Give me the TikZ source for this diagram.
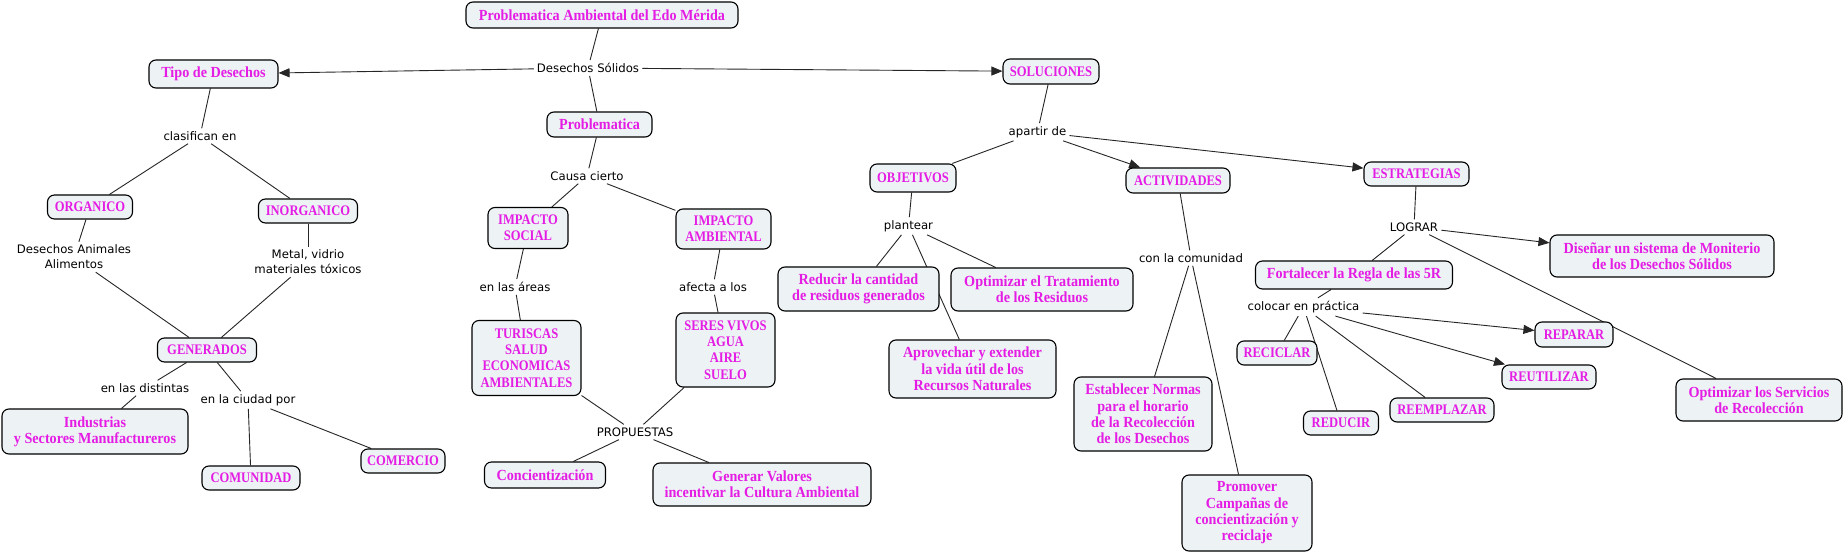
\documentclass[tikz,border=0pt]{standalone}
\usepackage{fontspec}
\setmainfont{Liberation Serif}
\newfontfamily\boxfont[FakeStretch=0.92]{Liberation Serif}
\newfontfamily\capfont[FakeStretch=0.86]{Liberation Serif}
\newfontfamily\labfont{DejaVu Sans}
\usetikzlibrary{arrows.meta}
\definecolor{mag}{RGB}{228,28,228}
\definecolor{boxfill}{RGB}{237,242,245}
\pgfdeclarelayer{bg}
\pgfsetlayers{bg,main}
\tikzset{
 bx/.style 2 args={draw=black, line width=1.1pt, rounded corners=7pt, fill=boxfill, text=mag,
   minimum width=#1pt, minimum height=#2pt, inner sep=0pt, align=center,
   font=\boxfont\fontsize{15.4}{16.3}\selectfont\bfseries},
 cbx/.style 2 args={bx={#1}{#2}, font=\capfont\fontsize{14.6}{16.3}\selectfont\bfseries},
 lab/.style={inner sep=3pt, align=center, text=black, font=\labfont\fontsize{11.7}{15}\selectfont},
 ln/.style={line width=0.9pt, draw=black!85},
 ar/.style={ln, -{Triangle[length=11pt,width=9pt]}},
}
\begin{document}
\begin{tikzpicture}[x=1pt,y=-1pt]
\useasboundingbox (0,0) rectangle (1844,553);
% boxes
\node[bx={272}{26}] (pa) at (602,15) {Problematica Ambiental del Edo Mérida};
\node[bx={129}{28}] (tipo) at (213.5,74) {Tipo de Desechos};
\node[cbx={96}{25}] (sol) at (1051,71.5) {SOLUCIONES};
\node[bx={105}{25}] (prob) at (599.5,124.5) {Problematica};
\node[cbx={85}{24}] (org) at (90,207) {ORGANICO};
\node[cbx={99}{24}] (inorg) at (308,211) {INORGANICO};
\node[cbx={99}{24}] (gen) at (207,350) {GENERADOS};
\node[bx={186}{45}] (ind) at (95,431.5) {Industrias\\y Sectores Manufactureros};
\node[cbx={98}{24}] (comu) at (251,478) {COMUNIDAD};
\node[cbx={84}{24}] (come) at (403,461) {COMERCIO};
\node[cbx={80}{41}] (is) at (528,228) {IMPACTO\\SOCIAL};
\node[cbx={95}{40}] (ia) at (723.5,229) {IMPACTO\\AMBIENTAL};
\node[cbx={109}{75}] (tur) at (526.5,358) {TURISCAS\\SALUD\\ECONOMICAS\\AMBIENTALES};
\node[cbx={99}{74}] (seres) at (725.5,350) {SERES VIVOS\\AGUA\\AIRE\\SUELO};
\node[bx={121}{26}] (conc) at (545,475) {Concientización};
\node[bx={218}{43}] (gv) at (762,484.5) {Generar Valores\\incentivar la Cultura Ambiental};
\node[cbx={86}{28}] (obj) at (913,178) {OBJETIVOS};
\node[cbx={104}{25}] (act) at (1178,180.5) {ACTIVIDADES};
\node[cbx={105}{24}] (est) at (1416.5,174) {ESTRATEGIAS};
\node[bx={161}{44}] (red) at (858.5,289) {Reducir la cantidad\\de residuos generados};
\node[bx={182}{43}] (opt) at (1042,289.5) {Optimizar el Tratamiento\\de los Residuos};
\node[bx={167}{58}] (apr) at (972.5,369) {Aprovechar y extender\\la vida útil de los\\Recursos Naturales};
\node[bx={138}{74}] (esta) at (1143,414) {Establecer Normas\\para el horario\\de la Recolección\\de los Desechos};
\node[bx={130}{76}] (prom) at (1247,513) {Promover\\Campañas de\\concientización y\\reciclaje};
\node[bx={197}{28}] (fort) at (1354,275) {Fortalecer la Regla de las 5R};
\node[bx={224}{42}] (dis) at (1662,256) {Diseñar un sistema de Moniterio\\de los Desechos Sólidos};
\node[bx={166}{42}] (opts) at (1759,400) {Optimizar los Servicios\\de Recolección};
\node[cbx={80}{24}] (recic) at (1277,353) {RECICLAR};
\node[cbx={75}{24}] (reduc) at (1341,423) {REDUCIR};
\node[cbx={104}{24}] (reemp) at (1442,410) {REEMPLAZAR};
\node[cbx={94}{24}] (reut) at (1549,377) {REUTILIZAR};
\node[cbx={78}{25}] (repa) at (1574,334.5) {REPARAR};
% linking phrases
\node[lab] (dsol) at (588,68) {Desechos Sólidos};
\node[lab] (clas) at (200,136) {clasifican en};
\node[lab] (anim) at (74,257) {Desechos Animales\\Alimentos};
\node[lab] (metal) at (308,262) {Metal, vidrio\\materiales tóxicos};
\node[lab] (dist) at (145,388) {en las distintas};
\node[lab] (ciud) at (248,400) {en la ciudad por};
\node[lab] (causa) at (587,176) {Causa cierto};
\node[lab] (areas) at (515,287) {en las áreas};
\node[lab] (afecta) at (713,287) {afecta a los};
\node[lab] (propu) at (635,432) {PROPUESTAS};
\node[lab] (apartir) at (1037.5,132) {apartir de};
\node[lab] (plant) at (908.5,226) {plantear};
\node[lab] (concom) at (1191,258) {con la comunidad};
\node[lab] (lograr) at (1414,227) {LOGRAR};
\node[lab] (coloc) at (1303.5,307) {colocar en práctica};
% connectors
\begin{pgfonlayer}{bg}
\fill[white] (0,0) rectangle (1844,553);
\draw[ln] (pa) -- (dsol);
\draw[ar] (dsol) -- (tipo);
\draw[ar] (dsol) -- (sol);
\draw[ln] (dsol) -- (prob);
\draw[ln] (tipo) -- (clas);
\draw[ln] (clas) -- (org);
\draw[ln] (clas) -- (inorg);
\draw[ln] (org) -- (anim);
\draw[ln] (inorg) -- (metal);
\draw[ln] (anim) -- (gen);
\draw[ln] (metal) -- (gen);
\draw[ln] (gen) -- (dist);
\draw[ln] (dist) -- (ind);
\draw[ln] (gen) -- (ciud);
\draw[ln] (ciud) -- (comu);
\draw[ln] (ciud) -- (come);
\draw[ln] (prob) -- (causa);
\draw[ln] (causa) -- (is);
\draw[ln] (causa) -- (ia);
\draw[ln] (is) -- (areas);
\draw[ln] (areas) -- (tur);
\draw[ln] (ia) -- (afecta);
\draw[ln] (afecta) -- (seres);
\draw[ln] (tur) -- (propu);
\draw[ln] (seres) -- (propu);
\draw[ln] (propu) -- (conc);
\draw[ln] (propu) -- (gv);
\draw[ln] (sol) -- (apartir);
\draw[ln] (apartir) -- (obj);
\draw[ar] (apartir) -- (act);
\draw[ar] (apartir) -- (est);
\draw[ln] (obj) -- (plant);
\draw[ln] (plant) -- (red);
\draw[ln] (plant) -- (apr);
\draw[ln] (plant) -- (opt);
\draw[ln] (act) -- (concom);
\draw[ln] (concom) -- (esta);
\draw[ln] (concom) -- (prom);
\draw[ln] (est) -- (lograr);
\draw[ln] (lograr) -- (fort);
\draw[ar] (lograr) -- (dis);
\draw[ln] (lograr) -- (opts);
\draw[ln] (fort) -- (coloc);
\draw[ln] (coloc) -- (recic);
\draw[ln] (coloc) -- (reduc);
\draw[ln] (coloc) -- (reemp);
\draw[ar] (coloc) -- (reut);
\draw[ar] (coloc) -- (repa);
\end{pgfonlayer}
\end{tikzpicture}
\end{document}
